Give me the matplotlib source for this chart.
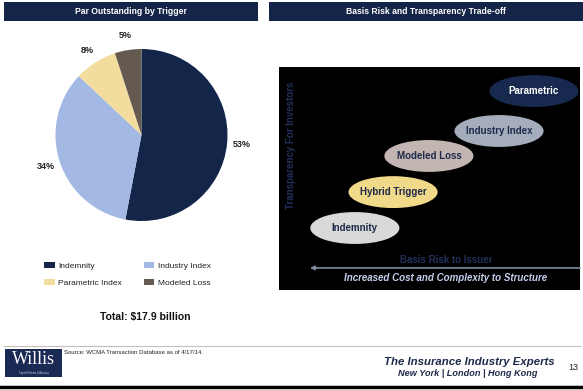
import matplotlib
matplotlib.use("Agg")
import matplotlib.pyplot as plt
from matplotlib.patches import Rectangle, Ellipse

plt.rcParams['font.family'] = ['Liberation Sans', 'DejaVu Sans']

# ---------------- data ----------------
pie_labels = ["Indemnity", "Industry Index", "Parametric Index", "Modeled Loss"]
pie_values = [53, 34, 8, 5]
pie_colors = ["#14254a", "#a3b9e3", "#f2dc9e", "#655a50"]

trigger_names = ["Indemnity", "Hybrid Trigger", "Modeled Loss", "Industry Index", "Parametric"]
basis_risk_pos = [25.2, 37.9, 49.8, 73.1, 84.7]      # horizontal position (0-100)
transparency_pos = [27.8, 43.9, 60.1, 71.3, 89.2]    # vertical position (0-100)
ellipse_colors = ["#d9d9d9", "#f1d98a", "#c3b5b2", "#a5adbd", "#18294f"]
ellipse_text_colors = ["#1e2a4a", "#1e2a4a", "#1e2a4a", "#1e2a4a", "#ffffff"]

left_title = "Par Outstanding by Trigger"
right_title = "Basis Risk and Transparency Trade-off"
total_text = "Total: $17.9 billion"
source_text = "Source: WCMA Transaction Database as of 4/17/14."

W, H = 583, 390
fig = plt.figure(figsize=(W / 100, H / 100), dpi=100)
fig.patch.set_facecolor("white")

# background overlay axes in pixel coordinates
bg = fig.add_axes([0, 0, 1, 1])
bg.set_xlim(0, W)
bg.set_ylim(H, 0)
bg.axis("off")

navy = "#152548"
# header bars
bg.add_patch(Rectangle((4, 2), 254, 19, facecolor=navy, edgecolor="none"))
bg.add_patch(Rectangle((269, 2), 314, 19, facecolor=navy, edgecolor="none"))
bg.text(131, 11.5, left_title, color="white", fontsize=6.2, fontweight="bold",
        ha="center", va="center")
bg.text(426, 11.5, right_title, color="white", fontsize=6.2, fontweight="bold",
        ha="center", va="center")

# total
bg.text(145, 317, total_text, fontsize=7.5, fontweight="bold", ha="center",
        va="center", color="#111111")

# footer
bg.plot([4, 580], [346, 346], color="#c9bcbc", lw=0.8)
bg.plot([0, W], [387, 387], color="black", lw=2.5)
bg.add_patch(Rectangle((5, 349), 57, 28, facecolor="#1b2a55", edgecolor="none"))
bg.text(33.5, 359, "Willis", color="white", fontsize=13, family="Liberation Serif",
        ha="center", va="center")
bg.text(33.5, 373, "Capital Markets & Advisory", color="#c8cde0", fontsize=1.8,
        ha="center", va="center")
bg.text(64, 353, source_text, fontsize=4.3, ha="left", va="center", color="#222222")
bg.text(555, 362, "The Insurance Industry Experts", fontsize=8.2, fontweight="bold",
        style="italic", color="#1e2a4a", ha="right", va="center")
bg.text(537, 374, "New York | London | Hong Kong", fontsize=6.6, fontweight="bold",
        style="italic", color="#1e2a4a", ha="right", va="center")
bg.text(573, 367, "13", fontsize=6.5, color="#222222", ha="center", va="center")

# ---------------- pie ----------------
cx, cy, r = 141.5, 135, 86
half = r * 1.25
axp = fig.add_axes([(cx - half) / W, (H - (cy + half)) / H, 2 * half / W, 2 * half / H])
wedges, texts, autotexts = axp.pie(
    pie_values, colors=pie_colors, startangle=90, counterclock=False,
    autopct=lambda p: f"{p:.0f}%", pctdistance=1.17,
    wedgeprops=dict(linewidth=0),
    textprops=dict(fontsize=6.5, fontweight="bold", color="#222222"))
axp.set_xlim(-1.25, 1.25)
axp.set_ylim(-1.25, 1.25)
axp.set_aspect("equal")
axp.axis("off")

order = [0, 2, 1, 3]
leg = fig.legend([wedges[i] for i in order], [pie_labels[i] for i in order],
                 ncol=2, loc="upper left", bbox_to_anchor=(44 / W, 1 - 262 / H),
                 frameon=False, fontsize=6, handlelength=1.3, handleheight=0.7,
                 handletextpad=0.4, columnspacing=2.6, labelspacing=1.1,
                 borderpad=0, borderaxespad=0)
for t in leg.get_texts():
    t.set_color("#222222")

# ---------------- diagram ----------------
x0, x1, y0, y1 = 279, 580, 67, 290
axd = fig.add_axes([x0 / W, (H - y1) / H, (x1 - x0) / W, (y1 - y0) / H])
axd.set_facecolor("black")
axd.set_xlim(0, 100)
axd.set_ylim(0, 100)
axd.set_xticks([])
axd.set_yticks([])
for s in axd.spines.values():
    s.set_visible(False)

for name, bx, ty, fc, tc in zip(trigger_names, basis_risk_pos, transparency_pos,
                                ellipse_colors, ellipse_text_colors):
    axd.add_patch(Ellipse((bx, ty), 29.6, 14.3, facecolor=fc, edgecolor="none"))
    axd.text(bx, ty, name, color=tc, fontsize=7, fontweight="bold",
             ha="center", va="center")

label_col = "#22305a"
axd.text((291 - x0) / (x1 - x0), (y1 - 145) / (y1 - y0), "Transparency For Investors",
         transform=axd.transAxes, rotation=90, color=label_col, fontsize=7,
         fontweight="bold", ha="center", va="center")
axd.text(0.555, (y1 - 260) / (y1 - y0), "Basis Risk to Issuer", transform=axd.transAxes,
         color=label_col, fontsize=7, fontweight="bold", ha="center", va="center")
axd.annotate("", xy=(10.3, 9.9), xytext=(100, 9.9),
             arrowprops=dict(arrowstyle="-|>", color="#7f8aa0", lw=1.2,
                             mutation_scale=6, shrinkA=0, shrinkB=0))
axd.text(0.555, (y1 - 278) / (y1 - y0), "Increased Cost and Complexity to Structure",
         transform=axd.transAxes, color="#c5d0ee", fontsize=7, fontweight="bold",
         style="italic", ha="center", va="center")

fig.savefig("out.png", dpi=100, facecolor="white")
